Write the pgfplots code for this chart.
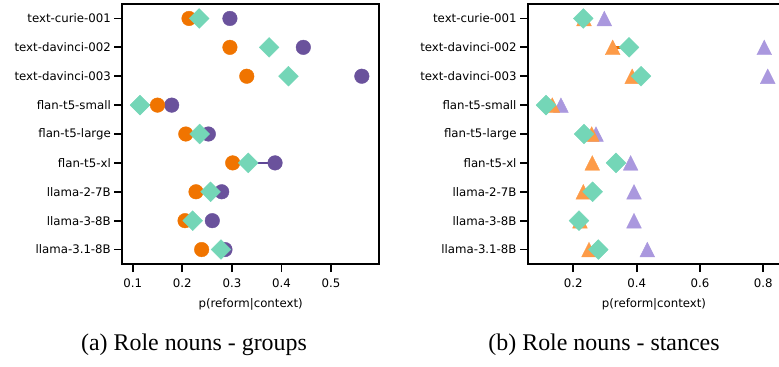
\documentclass[border=0pt]{standalone}
\usepackage{pgfplots}
\pgfplotsset{compat=1.18}
\usepackage{fontspec}
\setmainfont{DejaVu Sans}
\newfontfamily\capfont{Liberation Serif}
\definecolor{corange}{HTML}{F07400}
\definecolor{cpurple}{HTML}{6A529C}
\definecolor{cgreen}{HTML}{74D6B7}
\definecolor{torange}{HTML}{FD9B48}
\definecolor{tpurple}{HTML}{AA98DE}
\definecolor{lorange}{HTML}{EC6C00}
\definecolor{lpurple}{HTML}{5E4696}
\begin{document}
\begin{tikzpicture}
\pgfplotsset{
  rowstyle/.style={
    scale only axis, height=260bp, ymin=-0.5, ymax=8.5, y dir=reverse,
    ytick={0,...,8},
    yticklabels={text-curie-001,text-davinci-002,text-davinci-003,flan-t5-small,flan-t5-large,flan-t5-xl,llama-2-7B,llama-3-8B,llama-3.1-8B},
    axis line style={line width=1.8bp},
    every tick/.style={black, line width=1.8bp},
    major tick length=8bp,
    tick align=outside, xtick pos=bottom, ytick pos=left,
    tick label style={font=\fontsize{11.8}{14}\selectfont},
    xticklabel style={yshift=-3bp},
    label style={font=\fontsize{11.8}{14}\selectfont},
    xlabel style={yshift=-4bp},
    /pgf/number format/assume math mode=true,
    xlabel={p(reform|context)},
    clip=false,
  },
  circP/.style={only marks, mark=*, color=cpurple, mark size=7.3bp, mark options={line width=0.4pt}},
  circO/.style={only marks, mark=*, color=corange, mark size=7.3bp, mark options={line width=0.4pt}},
  diam/.style={only marks, mark=square*, color=cgreen, mark size=7bp, mark options={rotate=45, line width=0.4pt}},
  triP/.style={only marks, mark=triangle*, color=tpurple, mark size=8.5bp, mark options={yshift=-2.5bp, yscale=1.15, line width=0.4pt}},
  triO/.style={only marks, mark=triangle*, color=torange, mark size=8.5bp, mark options={yshift=-2.5bp, yscale=1.15, line width=0.4pt}},
  segO/.style={no markers, lorange, line width=2.5bp},
  segP/.style={no markers, lpurple, line width=2.5bp},
}
% ---------------- left panel ----------------
\begin{axis}[rowstyle, at={(122.3bp,103bp)}, anchor=south west, width=256.7bp,
  xmin=0.079, xmax=0.5966, xtick={0.1,0.2,0.3,0.4,0.5}]
\addplot[circP] coordinates {(0.296,0) (0.444,1) (0.562,2) (0.1786,3) (0.2525,4) (0.387,5) (0.2795,6) (0.2605,7) (0.286,8)};
\addplot[circO] coordinates {(0.2135,0) (0.296,1) (0.330,2) (0.150,3) (0.207,4) (0.3016,5) (0.2276,6) (0.2055,7) (0.239,8)};
\addplot[diam] coordinates {(0.234,0) (0.375,1) (0.414,2) (0.1147,3) (0.235,4) (0.333,5) (0.257,6) (0.221,7) (0.278,8)};
\addplot[segO] coordinates {(0.216,0) (0.236,0)};
\addplot[segO] coordinates {(0.113,3) (0.1415,3)};
\addplot[segP] coordinates {(0.234,4) (0.257,4)};
\addplot[segP] coordinates {(0.333,5) (0.385,5)};
\addplot[segP] coordinates {(0.256,6) (0.276,6)};
\addplot[segO] coordinates {(0.2055,7) (0.221,7)};
\end{axis}
% ---------------- right panel ----------------
\begin{axis}[rowstyle, at={(528bp,103bp)}, anchor=south west, width=252bp,
  xmin=0.057, xmax=0.8527, xtick={0.2,0.4,0.6,0.8}]
\addplot[triP] coordinates {(0.298,0) (0.803,1) (0.814,2) (0.161,3) (0.2717,4) (0.381,5) (0.3917,6) (0.3917,7) (0.4337,8)};
\addplot[triO] coordinates {(0.2338,0) (0.3244,1) (0.386,2) (0.1337,3) (0.258,4) (0.26,5) (0.2316,6) (0.221,7) (0.2496,8)};
\addplot[diam] coordinates {(0.2316,0) (0.376,1) (0.414,2) (0.1138,3) (0.2338,4) (0.3348,5) (0.261,6) (0.218,7) (0.279,8)};
\addplot[segO] coordinates {(0.229,0) (0.234,0)};
\addplot[segO] coordinates {(0.321,1) (0.378,1)};
\addplot[segO] coordinates {(0.384,2) (0.419,2)};
\addplot[segO] coordinates {(0.113,3) (0.137,3)};
\addplot[segO] coordinates {(0.2315,4) (0.2525,4)};
\addplot[segO] coordinates {(0.235,6) (0.263,6)};
\addplot[segO] coordinates {(0.217,7) (0.221,7)};
\addplot[segO] coordinates {(0.2526,8) (0.284,8)};
\end{axis}
\node[font=\capfont\fontsize{24}{28}\selectfont, anchor=base] at (194bp,17bp) {(a) Role nouns - groups};
\node[font=\capfont\fontsize{24}{28}\selectfont, anchor=base] at (604bp,17bp) {(b) Role nouns - stances};
\pgfresetboundingbox
\path[use as bounding box] (0,0) rectangle (779bp,367bp);
\end{tikzpicture}
\end{document}
